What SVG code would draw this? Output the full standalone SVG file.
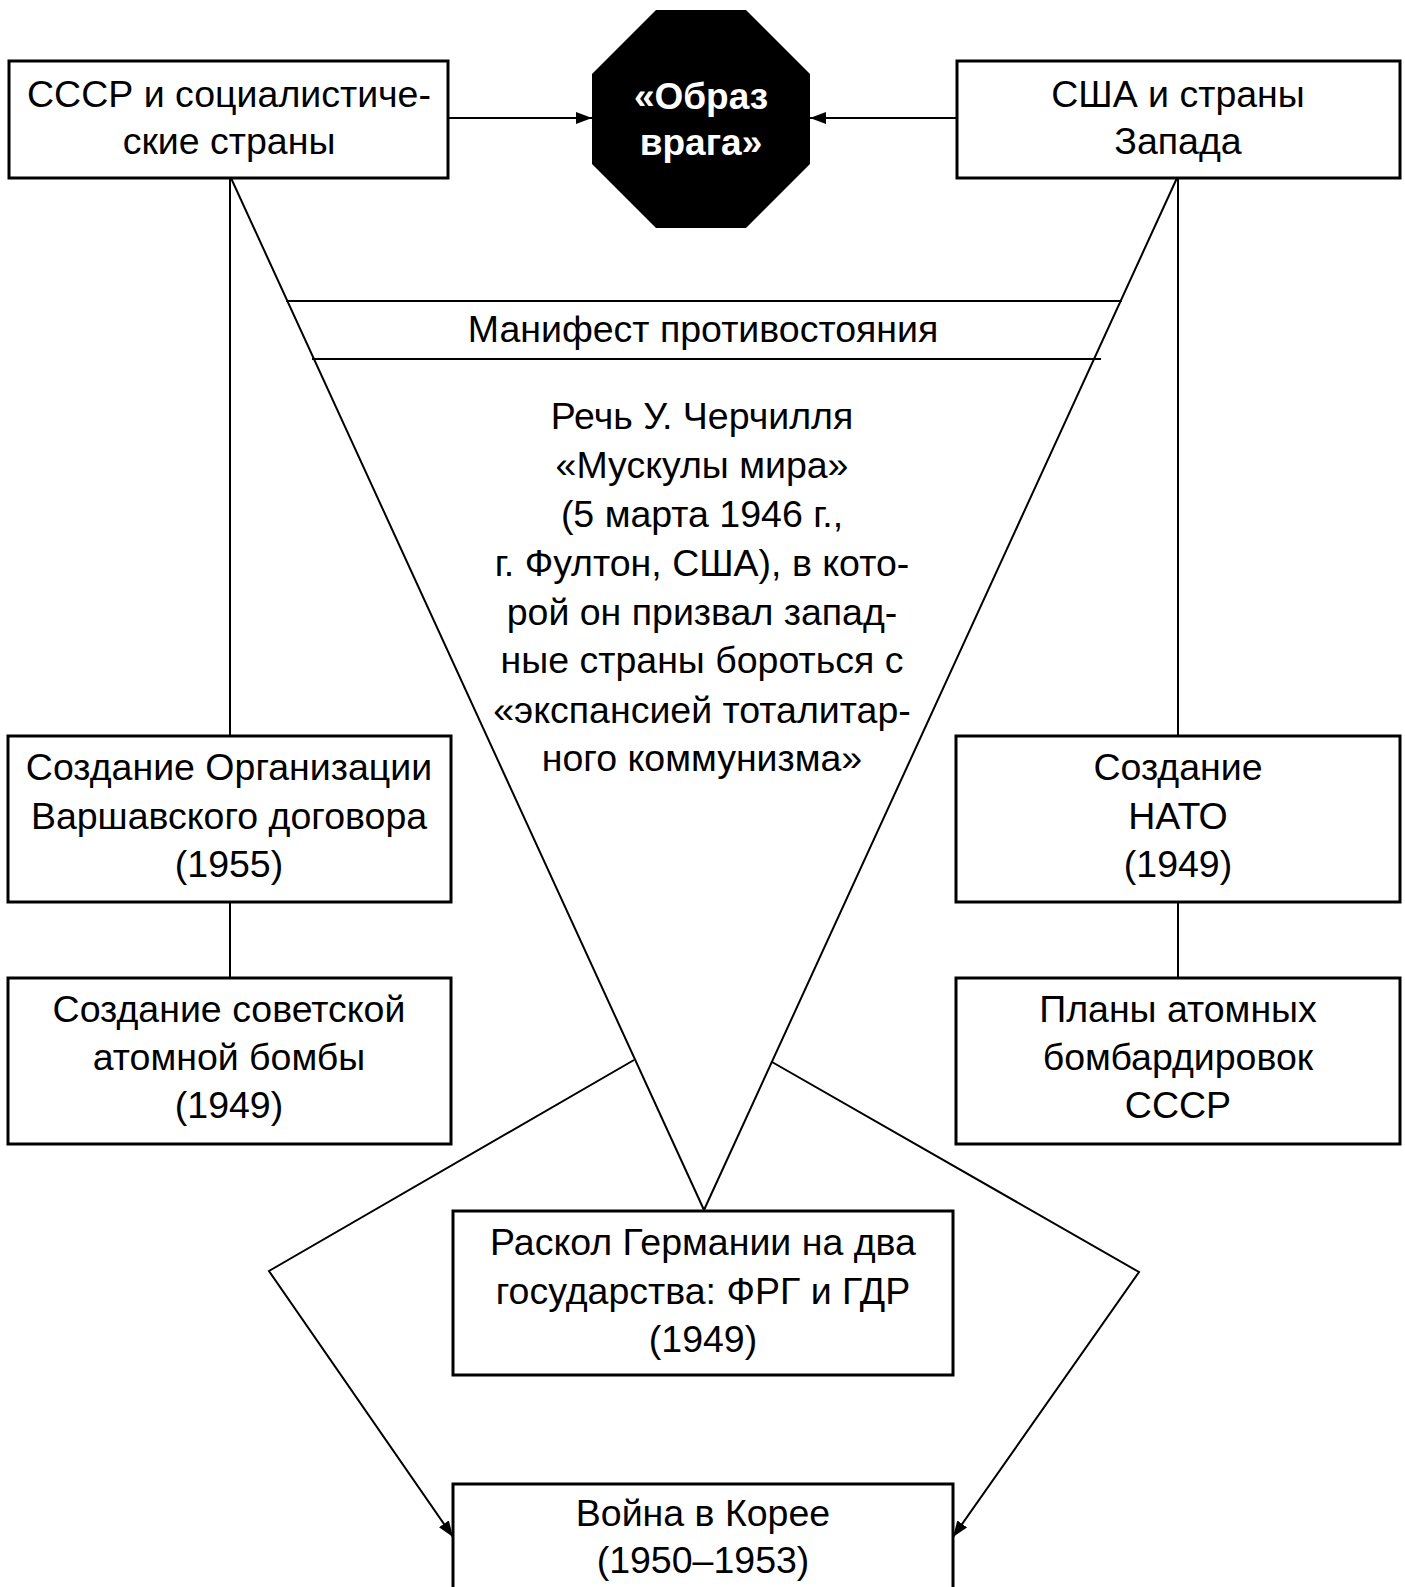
<svg xmlns="http://www.w3.org/2000/svg" width="1405" height="1587" viewBox="0 0 1405 1587">
<style>
.box{fill:#fff;stroke:#000;stroke-width:3}
.ln{fill:none;stroke:#000;stroke-width:2}
.t{font-family:"Liberation Sans",Arial,sans-serif;font-size:37.5px;fill:#000;text-anchor:middle}
.tb{font-family:"Liberation Sans",Arial,sans-serif;font-size:37px;font-weight:bold;fill:#fff;text-anchor:middle}
</style>
<defs>
<marker id="arr" viewBox="0 0 16 12" refX="16" refY="6" markerWidth="16" markerHeight="12" markerUnits="userSpaceOnUse" orient="auto">
<path d="M0,0 L16,6 L0,12 Z" fill="#000"/>
</marker>
</defs>
<rect width="1405" height="1587" fill="#fff"/>
<g id="connectors">
<line class="ln" x1="448" y1="118" x2="592" y2="118" marker-end="url(#arr)"/>
<line class="ln" x1="957" y1="118" x2="810" y2="118" marker-end="url(#arr)"/>
<line class="ln" x1="230" y1="178" x2="230" y2="736"/>
<line class="ln" x1="1178" y1="178" x2="1178" y2="736"/>
<line class="ln" x1="231" y1="178" x2="704" y2="1210"/>
<line class="ln" x1="1177" y1="178" x2="704" y2="1210"/>
<line class="ln" x1="286" y1="301" x2="1122" y2="301"/>
<line class="ln" x1="312" y1="359" x2="1101" y2="359"/>
<line class="ln" x1="230" y1="902" x2="230" y2="978"/>
<line class="ln" x1="1178" y1="902" x2="1178" y2="978"/>
<polyline class="ln" points="634,1060 269,1271 453,1537" marker-end="url(#arr)"/>
<polyline class="ln" points="772,1062 1139,1272 953,1537" marker-end="url(#arr)"/>
</g>
<g id="node-ussr">
<rect class="box" x="9" y="61" width="439" height="117"/>
<text class="t" x="229" y="107">СССР и социалистиче-</text>
<text class="t" x="229" y="154">ские страны</text>
</g>
<g id="node-enemy">
<polygon points="656,10 746,10 810,74 810,164 746,228 656,228 592,164 592,74" fill="#000"/>
<text class="tb" x="701" y="109">«Образ</text>
<text class="tb" x="701" y="155">врага»</text>
</g>
<g id="node-usa">
<rect class="box" x="957" y="61" width="443" height="117"/>
<text class="t" x="1178" y="107">США и страны</text>
<text class="t" x="1178" y="154">Запада</text>
</g>
<g id="node-manifest">
<text class="t" x="703" y="342">Манифест противостояния</text>
</g>
<g id="node-speech">
<text class="t" x="702" y="429">Речь У. Черчилля</text>
<text class="t" x="702" y="478">«Мускулы мира»</text>
<text class="t" x="702" y="527">(5 марта 1946 г.,</text>
<text class="t" x="702" y="576">г. Фултон, США), в кото-</text>
<text class="t" x="702" y="625">рой он призвал запад-</text>
<text class="t" x="702" y="673">ные страны бороться с</text>
<text class="t" x="702" y="723">«экспансией тоталитар-</text>
<text class="t" x="702" y="771">ного коммунизма»</text>
</g>
<g id="node-warsaw">
<rect class="box" x="8" y="736" width="443" height="166"/>
<text class="t" x="229" y="780">Создание Организации</text>
<text class="t" x="229" y="829">Варшавского договора</text>
<text class="t" x="229" y="877">(1955)</text>
</g>
<g id="node-sovbomb">
<rect class="box" x="8" y="978" width="443" height="166"/>
<text class="t" x="229" y="1022">Создание советской</text>
<text class="t" x="229" y="1070">атомной бомбы</text>
<text class="t" x="229" y="1118">(1949)</text>
</g>
<g id="node-nato">
<rect class="box" x="956" y="736" width="444" height="166"/>
<text class="t" x="1178" y="780">Создание</text>
<text class="t" x="1178" y="829">НАТО</text>
<text class="t" x="1178" y="877">(1949)</text>
</g>
<g id="node-plans">
<rect class="box" x="956" y="978" width="444" height="166"/>
<text class="t" x="1178" y="1022">Планы атомных</text>
<text class="t" x="1178" y="1070">бомбардировок</text>
<text class="t" x="1178" y="1118">СССР</text>
</g>
<g id="node-germany">
<rect class="box" x="453" y="1211" width="500" height="164"/>
<text class="t" x="703" y="1255">Раскол Германии на два</text>
<text class="t" x="703" y="1304">государства: ФРГ и ГДР</text>
<text class="t" x="703" y="1352">(1949)</text>
</g>
<g id="node-korea">
<rect class="box" x="453" y="1484" width="500" height="120"/>
<text class="t" x="703" y="1526">Война в Корее</text>
<text class="t" x="703" y="1573">(1950–1953)</text>
</g>
</svg>
